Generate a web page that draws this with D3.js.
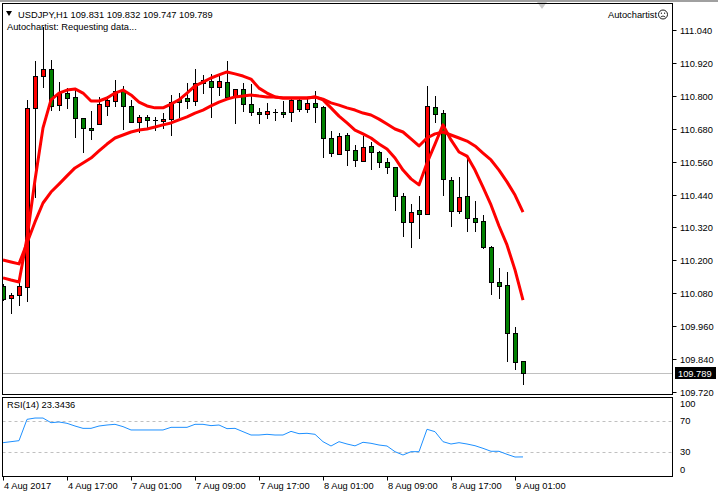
<!DOCTYPE html>
<html><head><meta charset="utf-8">
<script src="https://cdn.jsdelivr.net/npm/d3@7"></script>
<style>
body{margin:0;background:#fff;}
svg{display:block;}
text{font-family:"Liberation Sans",Arial,sans-serif;font-size:9.3px;fill:#000;}
</style>
</head><body><svg id="c" width="718" height="496"></svg>
<script>
// ---------------- DATA ----------------
const symbolTitle = "USDJPY,H1  109.831 109.832 109.747 109.789";
const statusText = "Autochartist: Requesting data...";
const rsiTitle = "RSI(14) 23.3436";

const openP  = [110.106,110.063,110.074,110.103,110.756,110.872,110.898,110.766,110.810,110.796,110.719,110.683,110.697,110.763,110.781,110.818,110.763,110.705,110.723,110.712,110.708,110.715,110.788,110.792,110.781,110.847,110.854,110.832,110.850,110.796,110.825,110.770,110.741,110.734,110.741,110.741,110.741,110.785,110.752,110.774,110.759,110.646,110.588,110.657,110.602,110.562,110.617,110.595,110.559,110.540,110.435,110.340,110.384,110.369,110.759,110.737,110.493,110.380,110.435,110.354,110.343,110.249,110.121,110.110,109.935,109.831];
const highP  = [110.114,110.081,110.121,110.785,110.927,111.051,110.931,110.850,110.828,110.828,110.719,110.745,110.796,110.799,110.858,110.836,110.785,110.730,110.730,110.723,110.737,110.803,110.810,110.847,110.898,110.876,110.880,110.876,110.927,110.825,110.847,110.843,110.756,110.774,110.752,110.781,110.796,110.796,110.788,110.818,110.763,110.672,110.664,110.664,110.621,110.653,110.632,110.599,110.573,110.540,110.446,110.405,110.435,110.836,110.799,110.748,110.504,110.504,110.577,110.416,110.365,110.252,110.172,110.157,109.957,109.832];
const lowP   = [110.055,110.008,110.037,110.052,110.431,110.832,110.748,110.748,110.756,110.650,110.595,110.643,110.697,110.730,110.763,110.679,110.705,110.668,110.683,110.675,110.683,110.657,110.723,110.756,110.766,110.810,110.723,110.803,110.796,110.701,110.745,110.730,110.701,110.719,110.712,110.723,110.708,110.745,110.741,110.705,110.577,110.580,110.588,110.548,110.544,110.562,110.533,110.540,110.518,110.384,110.289,110.249,110.281,110.369,110.705,110.438,110.325,110.373,110.307,110.307,110.245,110.077,110.063,109.833,109.804,109.747];
const closeP = [110.059,110.074,110.106,110.756,110.872,110.898,110.763,110.810,110.792,110.719,110.683,110.675,110.770,110.785,110.818,110.763,110.705,110.723,110.712,110.712,110.715,110.777,110.777,110.781,110.847,110.858,110.832,110.854,110.796,110.825,110.770,110.741,110.734,110.745,110.741,110.734,110.785,110.752,110.774,110.759,110.646,110.591,110.653,110.602,110.566,110.613,110.595,110.559,110.540,110.435,110.340,110.376,110.369,110.763,110.734,110.497,110.380,110.431,110.354,110.340,110.249,110.121,110.106,109.935,109.829,109.789];

const maFast = [110.136,110.128,110.121,110.281,110.493,110.683,110.785,110.810,110.821,110.825,110.810,110.781,110.781,110.792,110.810,110.821,110.803,110.777,110.763,110.756,110.756,110.770,110.785,110.810,110.836,110.850,110.865,110.876,110.887,110.880,110.872,110.861,110.828,110.810,110.796,110.792,110.792,110.792,110.792,110.796,110.785,110.756,110.726,110.701,110.675,110.661,110.646,110.624,110.606,110.573,110.529,110.497,110.475,110.555,110.624,110.694,110.639,110.595,110.580,110.529,110.467,110.402,110.325,110.256,110.165,110.055];
const maSlow = [110.201,110.194,110.187,110.263,110.340,110.409,110.449,110.478,110.508,110.537,110.555,110.573,110.599,110.624,110.646,110.657,110.668,110.675,110.679,110.686,110.694,110.701,110.712,110.723,110.737,110.748,110.763,110.777,110.788,110.796,110.799,110.803,110.799,110.796,110.796,110.792,110.792,110.792,110.792,110.796,110.788,110.774,110.766,110.756,110.748,110.737,110.730,110.715,110.697,110.679,110.668,110.643,110.617,110.646,110.661,110.668,110.657,110.646,110.635,110.617,110.591,110.566,110.529,110.486,110.438,110.376];

const rsiValues = [41.7,43.0,44.3,71.8,73.5,73.5,67.5,68.4,66.7,63.2,60.2,60.2,63.2,64.5,65.4,62.4,58.1,58.1,58.1,58.1,58.1,61.5,61.5,61.5,65.4,65.4,63.7,64.5,59.8,60.2,55.9,51.6,51.6,52.5,51.6,51.6,56.3,53.3,53.8,52.5,43.0,37.4,43.0,40.0,37.6,42.2,40.9,38.7,37.4,30.1,25.8,30.1,30.1,59.0,55.9,43.0,40.0,41.7,40.0,37.8,34.4,30.6,30.6,26.7,23.2,23.3436];

const priceTicks = [111.040,110.920,110.800,110.680,110.560,110.440,110.320,110.200,110.080,109.960,109.840,109.720];
const lastPrice = 109.789;
const rsiLevels = [70,30];
const rsiTickLabels = [100,70,30,0];
const timeTickIndex = [0,8,16,24,32,40,48,56,64];
const timeTickLabels = ["4 Aug 2017","4 Aug 17:00","7 Aug 01:00","7 Aug 09:00","7 Aug 17:00","8 Aug 01:00","8 Aug 09:00","8 Aug 17:00","9 Aug 01:00"];

// ---------------- LAYOUT ----------------
const svg = d3.select("#c");
const L = 2.5, R = 672.5;
const mainTop = 3.5, mainBot = 394.5;
const rsiTop = 397.5, rsiBot = 476.5;
const bullColor = "#ff0000", bearColor = "#008000";

const x = d3.scaleLinear().domain([0, 83]).range([3, 667]);
const y = d3.scaleLinear().domain([109.720, 111.040]).range([391.9, 30]);
const yr = d3.scaleLinear().domain([0, 100]).range([475, 397.5]);

// top window strip and shift marker
svg.append("rect").attr("x",0).attr("y",0).attr("width",718).attr("height",2).attr("fill","#a0a0a0");
svg.append("path").attr("d","M537,2L547,2L542,9Z").attr("fill","#c8c8c8");

svg.append("defs").append("clipPath").attr("id","clipMain")
  .append("rect").attr("x",L).attr("y",mainTop).attr("width",R-L).attr("height",mainBot-mainTop);
svg.select("defs").append("clipPath").attr("id","clipRsi")
  .append("rect").attr("x",L).attr("y",rsiTop).attr("width",R-L).attr("height",rsiBot-rsiTop);

// last price line
svg.append("line").attr("x1",L).attr("x2",R)
  .attr("y1",Math.round(y(lastPrice))+0.5).attr("y2",Math.round(y(lastPrice))+0.5)
  .attr("stroke","#c0c0c0").attr("stroke-width",1);

// header texts
svg.append("path").attr("d","M6,11L12,11L9,16Z").attr("fill","#000");
svg.append("text").attr("x",18).attr("y",17.5).text(symbolTitle);
svg.append("text").attr("x",7).attr("y",29.5).text(statusText);
svg.append("text").attr("x",608).attr("y",18).text("Autochartist");
const face = svg.append("g").attr("transform","translate(663,14.5)");
face.append("circle").attr("r",4.5).attr("fill","none").attr("stroke","#000").attr("stroke-width",0.9);
face.append("circle").attr("cx",-1.6).attr("cy",-1.3).attr("r",0.6).attr("fill","#000");
face.append("circle").attr("cx",1.6).attr("cy",-1.3).attr("r",0.6).attr("fill","#000");
face.append("path").attr("d","M-2.2,2.4Q0,0.6 2.2,2.4").attr("fill","none").attr("stroke","#000").attr("stroke-width",0.8);

// candles
const gC = svg.append("g").attr("clip-path","url(#clipMain)");
const idx = d3.range(closeP.length);
idx.forEach(i => {
  const cx = Math.round(x(i));
  const yo = Math.round(y(openP[i])), yc = Math.round(y(closeP[i]));
  const yh = Math.round(y(highP[i])), yl = Math.round(y(lowP[i]));
  gC.append("line").attr("x1",cx+0.5).attr("x2",cx+0.5).attr("y1",yh).attr("y2",yl+1)
    .attr("stroke","#000").attr("stroke-width",1);
  const top = Math.min(yo,yc), bot = Math.max(yo,yc);
  const up = closeP[i] >= openP[i];
  if (bot - top < 1) {
    gC.append("line").attr("x1",cx-2).attr("x2",cx+3).attr("y1",top+0.5).attr("y2",top+0.5)
      .attr("stroke","#000").attr("stroke-width",1);
  } else {
    gC.append("rect").attr("x",cx-1.5).attr("y",top+0.5).attr("width",4).attr("height",bot-top)
      .attr("fill", up ? bullColor : bearColor).attr("stroke","#000").attr("stroke-width",1);
  }
});

// moving averages
const lineP = d3.line().x((d,i)=>x(i)).y(d=>y(d));
gC.append("path").datum(maSlow).attr("d",lineP).attr("fill","none").attr("stroke","#ff0000").attr("stroke-width",3).attr("stroke-linejoin","round");
gC.append("path").datum(maFast).attr("d",lineP).attr("fill","none").attr("stroke","#ff0000").attr("stroke-width",3).attr("stroke-linejoin","round");

// main frame
svg.append("rect").attr("x",L).attr("y",mainTop).attr("width",R-L).attr("height",mainBot-mainTop)
  .attr("fill","none").attr("stroke","#000").attr("stroke-width",1);

// price axis
priceTicks.forEach(p => {
  const yy = Math.round(y(p));
  svg.append("line").attr("x1",R).attr("x2",R+4).attr("y1",yy+0.5).attr("y2",yy+0.5).attr("stroke","#000");
  svg.append("text").attr("x",680).attr("y",yy+3.5).text(d3.format(".3f")(p));
});
const yl = Math.round(y(lastPrice));
svg.append("rect").attr("x",675).attr("y",yl-6).attr("width",41).attr("height",12).attr("fill","#000");
svg.append("text").attr("x",678).attr("y",yl+3.5).style("fill","#fff").text(d3.format(".3f")(lastPrice));

// RSI panel
const gR = svg.append("g").attr("clip-path","url(#clipRsi)");
rsiLevels.forEach(v => {
  gR.append("line").attr("x1",L).attr("x2",R).attr("y1",Math.round(yr(v))+0.5).attr("y2",Math.round(yr(v))+0.5)
    .attr("stroke","#c0c0c0").attr("stroke-dasharray","3,3");
});
const lineR = d3.line().x((d,i)=>x(i)).y(d=>yr(d));
gR.append("path").datum(rsiValues).attr("d",lineR).attr("fill","none").attr("stroke","#1e90ff").attr("stroke-width",1);
svg.append("rect").attr("x",L).attr("y",rsiTop).attr("width",R-L).attr("height",rsiBot-rsiTop)
  .attr("fill","none").attr("stroke","#000").attr("stroke-width",1);
svg.append("text").attr("x",7).attr("y",408).text(rsiTitle);
rsiTickLabels.forEach(v => {
  const yy = Math.max(rsiTop+6, Math.min(rsiBot-7.5, yr(v)));
  svg.append("text").attr("x",680).attr("y",yy+3.5).text(v);
});

// time axis
timeTickIndex.forEach((ti,k) => {
  const xx = Math.round(x(ti));
  svg.append("line").attr("x1",xx+0.5).attr("x2",xx+0.5).attr("y1",rsiBot).attr("y2",rsiBot+4).attr("stroke","#000");
  svg.append("text").attr("x",xx+1).attr("y",489).text(timeTickLabels[k]);
});
</script>
</body></html>
